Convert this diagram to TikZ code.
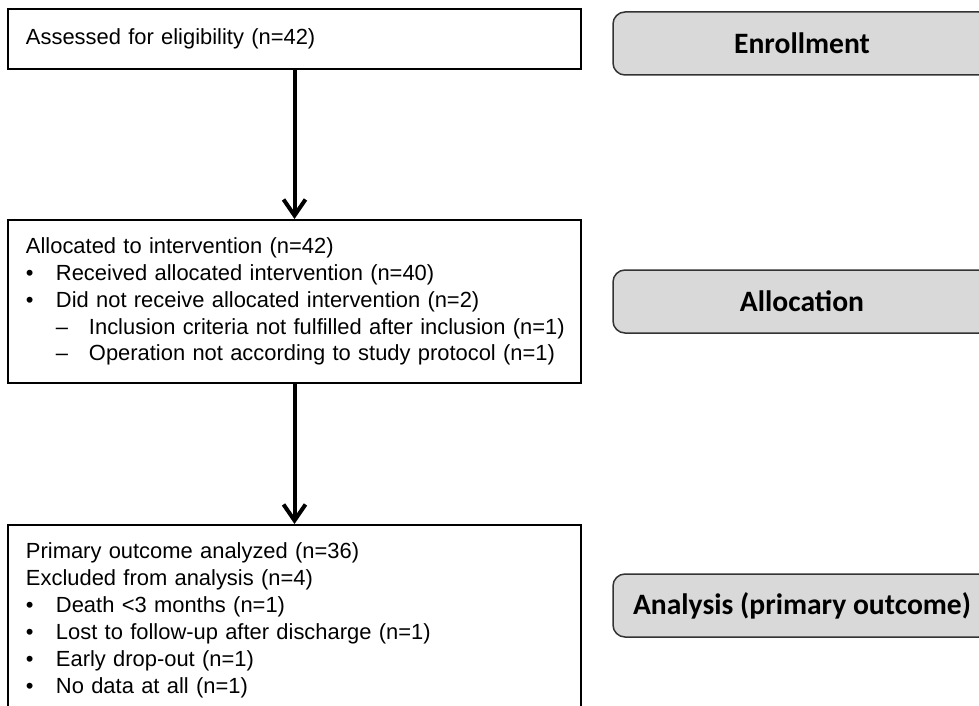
\documentclass[tikz,border=0pt]{standalone}
\usepackage{fontspec}
\setmainfont{Liberation Sans}
\newfontfamily\carlito{Carlito}
\usetikzlibrary{arrows.meta}
\definecolor{stagefill}{HTML}{D9D9D9}
\definecolor{stageline}{HTML}{333333}
\newcommand{\blt}{\makebox[30bp][l]{•}}
\newcommand{\subdash}{\hspace*{30bp}\makebox[33bp][l]{–}}
\begin{document}
\begin{tikzpicture}[x=1bp,y=-1bp,
  flowbox/.style={draw, line width=2bp, align=left, text width=537bp, inner xsep=18bp,
    inner ysep=0bp, font=\fontsize{22}{27}\selectfont},
  stage/.style={draw=stageline, fill=stagefill, rounded corners=12bp, line width=1.5bp,
    minimum width=378bp, minimum height=63bp, font=\carlito\bfseries\fontsize{29.7}{31}\selectfont},
  flowarrow/.style={line width=4bp, -{Straight Barb[length=16bp,width=22bp]}}]
\useasboundingbox (0,0) rectangle (979,706);

\node[flowbox, minimum height=60bp] (b1) at (294.5,39) {Assessed for eligibility (n=42)};

\node[flowbox, minimum height=163bp] (b2) at (294.5,301.5) {Allocated to intervention (n=42)\\
\blt Received allocated intervention (n=40)\\
\blt Did not receive allocated intervention (n=2)\\
\mbox{\subdash Inclusion criteria not fulfilled after inclusion (n=1)}\\
\mbox{\subdash Operation not according to study protocol (n=1)}};

\node[flowbox, minimum height=191bp] (b3) at (294.5,620.5) {Primary outcome analyzed (n=36)\\
Excluded from analysis (n=4)\\
\blt Death <3 months (n=1)\\
\blt Lost to follow-up after discharge (n=1)\\
\blt Early drop-out (n=1)\\
\blt No data at all (n=1)};

\node[stage] (s1) at (802,43.5) {Enrollment};
\node[stage] (s2) at (802,301.5) {Allocation};
\node[stage] (s3) at (802,605.5) {Analysis (primary outcome)};

\draw[flowarrow] (b1.south) -- (b2.north);
\draw[flowarrow] (b2.south) -- (b3.north);
\end{tikzpicture}
\end{document}
